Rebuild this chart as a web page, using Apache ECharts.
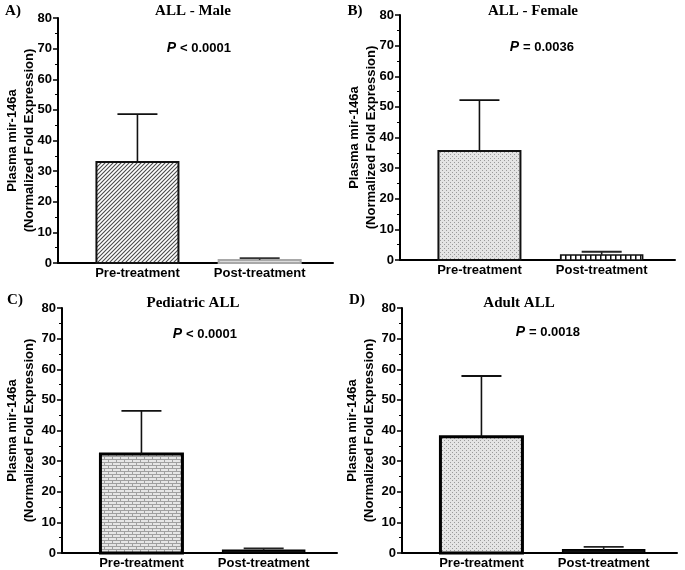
<!DOCTYPE html>
<html>
<head>
<meta charset="utf-8">
<script src="https://cdn.jsdelivr.net/npm/echarts@6/dist/echarts.min.js"></script>
<style>
html,body{margin:0;padding:0;background:#fff;}
#chart{width:685px;height:570px;}
</style>
</head>
<body>
<div id="chart"></div>
<script>
// ---------- data ----------
const categories = ['Pre-treatment', 'Post-treatment'];
const categoryPos = [0, 1];
const panelTitles = ['ALL - Male', 'ALL - Female', 'Pediatric ALL', 'Adult ALL'];
const panelLetters = ['A)', 'B)', 'C)', 'D)'];
const pValues = ['< 0.0001', '= 0.0036', '< 0.0001', '= 0.0018'];
const yAxisTitle = 'Plasma mir-146a\n(Normalized Fold Expression)';
const yMin = 0, yMax = 80, yStep = 10;

const meanMale = [33.0, 1.0];
const errMale = [15.6, 0.6];
const meanFemale = [35.6, 1.6];
const errFemale = [16.6, 1.1];
const meanPediatric = [32.3, 0.9];
const errPediatric = [14.1, 0.6];
const meanAdult = [38.0, 1.1];
const errAdult = [19.8, 0.9];

const panelMeans = [meanMale, meanFemale, meanPediatric, meanAdult];
const panelErrs = [errMale, errFemale, errPediatric, errAdult];

// ---------- patterns (style) ----------
function mk(w, h, draw) {
  const c = document.createElement('canvas');
  c.width = w; c.height = h;
  const ctx = c.getContext('2d');
  draw(ctx);
  return { image: c, repeat: 'repeat' };
}
const hatch = mk(4, 4, ctx => {
  ctx.fillStyle = '#fff'; ctx.fillRect(0, 0, 4, 4);
  ctx.strokeStyle = '#4a4a4a'; ctx.lineWidth = 1.1;
  ctx.beginPath();
  ctx.moveTo(-1, 5); ctx.lineTo(5, -1);
  ctx.moveTo(-1, 1); ctx.lineTo(1, -1);
  ctx.moveTo(3, 5); ctx.lineTo(5, 3);
  ctx.stroke();
});
const dots = mk(4, 4, ctx => {
  ctx.fillStyle = '#e4e4e4'; ctx.fillRect(0, 0, 4, 4);
  ctx.fillStyle = '#9a9a9a';
  ctx.fillRect(0, 0, 1, 1); ctx.fillRect(2, 2, 1, 1);
});
const brick = mk(8, 6, ctx => {
  ctx.fillStyle = '#e6e6e6'; ctx.fillRect(0, 0, 8, 6);
  ctx.fillStyle = '#a0a0a0';
  ctx.fillRect(0, 0, 8, 1); ctx.fillRect(0, 3, 8, 1);
  ctx.fillRect(0, 0, 1, 3); ctx.fillRect(4, 3, 1, 3);
});
const whiteCells = mk(5, 4, ctx => {
  ctx.fillStyle = '#fff'; ctx.fillRect(0, 0, 5, 4);
  ctx.fillStyle = '#111'; ctx.fillRect(0, 0, 1.5, 4);
});
const blackDots = mk(4, 4, ctx => {
  ctx.fillStyle = '#111'; ctx.fillRect(0, 0, 4, 4);
  ctx.fillStyle = '#888'; ctx.fillRect(1, 1, 1, 1);
});

const barStyles = [
  [{ fill: hatch, stroke: '#111', lw: 2 }, { fill: '#dcdcdc', stroke: '#a8a8a8', lw: 2 }],
  [{ fill: dots, stroke: '#111', lw: 2 }, { fill: whiteCells, stroke: '#111', lw: 1.5 }],
  [{ fill: brick, stroke: '#000', lw: 3 }, { fill: '#111', stroke: '#000', lw: 1.5 }],
  [{ fill: dots, stroke: '#000', lw: 3 }, { fill: blackDots, stroke: '#000', lw: 1.5 }]
];
const errColors = [['#111', '#333'], ['#111', '#222'], ['#111', '#222'], ['#111', '#222']];

// ---------- layout ----------
const gridPos = [
  { left: 58, top: 18 },
  { left: 400, top: 15 },
  { left: 62, top: 308 },
  { left: 402, top: 308 }
];
const gridW = 275, gridH = 245, barW = 82, capW = 40;
const nameGaps = [20, 20, 24, 24];

const titlePos = [[193, 11], [533, 11], [193, 303], [519, 303]];
const letterPos = [[13, 11], [355, 11], [15, 300], [357, 300]];
const pPos = [[198, 48], [541, 47], [204, 334], [547, 332]];

const sansBold = { fontFamily: 'Liberation Sans, Arial, sans-serif', fontWeight: 'bold', fontSize: 13, color: '#000' };
const pFont = 'bold 13px "Liberation Sans", Arial, sans-serif';
const pItalFont = 'italic bold 14px "Liberation Sans", Arial, sans-serif';

const grids = [], xAxes = [], yAxes = [], series = [], graphics = [];
for (let i = 0; i < 4; i++) {
  grids.push({ left: gridPos[i].left, top: gridPos[i].top, width: gridW, height: gridH, containLabel: false });
  xAxes.push({
    type: 'value', gridIndex: i, min: -0.65, max: 1.6,
    axisLine: { show: true, onZero: false, lineStyle: { color: '#000', width: 2 } },
    axisTick: { show: true, inside: true, length: 3, customValues: categoryPos, lineStyle: { color: '#000', width: 1 } },
    axisLabel: Object.assign({ customValues: categoryPos, margin: 4, formatter: v => categories[Math.round(v)] }, sansBold),
    splitLine: { show: false }
  });
  yAxes.push({
    type: 'value', gridIndex: i, min: yMin, max: yMax, interval: yStep,
    name: yAxisTitle, nameLocation: 'middle', nameGap: nameGaps[i], nameMoveOverlap: false,
    nameTextStyle: Object.assign({ lineHeight: 17, align: 'center' }, sansBold),
    axisLine: { show: true, onZero: false, lineStyle: { color: '#000', width: 2 } },
    axisTick: { show: true, length: 5, lineStyle: { color: '#000', width: 1.5 } },
    minorTick: { show: true, splitNumber: 2, length: 3, lineStyle: { color: '#000', width: 1 } },
    axisLabel: Object.assign({ margin: 6 }, sansBold),
    splitLine: { show: false }
  });
  const data = categoryPos.map((x, k) => [x, panelMeans[i][k], panelErrs[i][k]]);
  const pi = i;
  series.push({
    type: 'custom', xAxisIndex: i, yAxisIndex: i, data: data, z: 3,
    renderItem: function (params, api) {
      const x = api.value(0), v = api.value(1);
      const p0 = api.coord([x, 0]), p1 = api.coord([x, v]);
      const st = barStyles[pi][params.dataIndex];
      return {
        type: 'rect',
        shape: { x: p0[0] - barW / 2, y: p1[1], width: barW, height: p0[1] - p1[1] },
        style: { fill: st.fill, stroke: st.stroke, lineWidth: st.lw }
      };
    }
  });
  series.push({
    type: 'custom', xAxisIndex: i, yAxisIndex: i, data: data, z: 4,
    renderItem: function (params, api) {
      const x = api.value(0), v = api.value(1), e = api.value(2);
      const pb = api.coord([x, v]), pt = api.coord([x, v + e]);
      const col = errColors[pi][params.dataIndex];
      return {
        type: 'group',
        children: [
          { type: 'line', shape: { x1: pb[0], y1: pb[1], x2: pt[0], y2: pt[1] }, style: { stroke: col, lineWidth: 1.6 } },
          { type: 'line', shape: { x1: pt[0] - capW / 2, y1: pt[1], x2: pt[0] + capW / 2, y2: pt[1] }, style: { stroke: col, lineWidth: 1.8 } }
        ]
      };
    }
  });
  graphics.push({
    type: 'text', x: titlePos[i][0], y: titlePos[i][1],
    style: { text: panelTitles[i], font: 'bold 15px "Liberation Serif", "Times New Roman", serif', fill: '#000', textAlign: 'center', textVerticalAlign: 'middle' }
  });
  graphics.push({
    type: 'text', x: letterPos[i][0], y: letterPos[i][1],
    style: { text: panelLetters[i], font: 'bold 15px "Liberation Serif", "Times New Roman", serif', fill: '#000', textAlign: 'center', textVerticalAlign: 'middle' }
  });
  // P-value: italic "P" + bold rest, centred as a pair
  const x0 = pPos[i][0] - 31;
  graphics.push({
    type: 'text', x: x0 + 9, y: pPos[i][1],
    style: { text: 'P', font: pItalFont, fill: '#000', textAlign: 'right', textVerticalAlign: 'middle' }
  });
  graphics.push({
    type: 'text', x: x0 + 13, y: pPos[i][1],
    style: { text: pValues[i], font: pFont, fill: '#000', textAlign: 'left', textVerticalAlign: 'middle' }
  });
}

const chart = echarts.init(document.getElementById('chart'), null, { renderer: 'canvas' });
chart.setOption({
  backgroundColor: '#fff',
  animation: false,
  grid: grids,
  xAxis: xAxes,
  yAxis: yAxes,
  series: series,
  graphic: graphics
});
</script>
</body>
</html>
